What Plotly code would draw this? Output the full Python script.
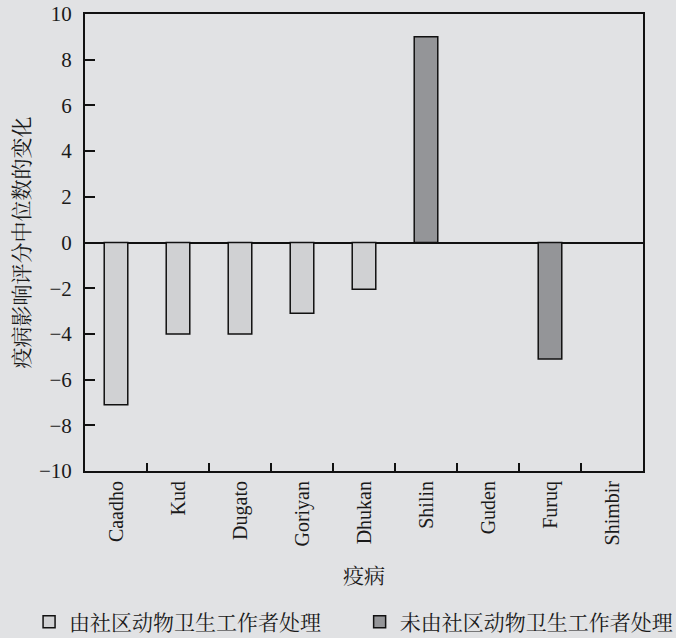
import plotly.graph_objects as go

categories = ["Caadho", "Kud", "Dugato", "Goriyan", "Dhukan", "Shilin", "Guden", "Furuq", "Shimbir"]
treated = [-7.1, -4.0, -4.0, -3.1, -2.05, None, None, None, None]
untreated = [None, None, None, None, None, 9.0, None, -5.1, None]
series_names = ["由社区动物卫生工作者处理", "未由社区动物卫生工作者处理"]
y_ticks = [-10, -8, -6, -4, -2, 0, 2, 4, 6, 8, 10]
y_tick_text = ["−10", "−8", "−6", "−4", "−2", "0", "2", "4", "6", "8", "10"]

FONT = "Liberation Serif, Noto Serif CJK SC, Noto Sans CJK SC, serif"
BG = "#e1e2e4"

fig = go.Figure()
fig.add_trace(go.Bar(x=categories, y=treated, name=series_names[0], width=0.38, legend="legend",
                     marker=dict(color="#d0d1d3", line=dict(color="#111111", width=1.5))))
fig.add_trace(go.Bar(x=categories, y=untreated, name=series_names[1], width=0.38, legend="legend2",
                     marker=dict(color="#949598", line=dict(color="#111111", width=1.5))))

legend_common = dict(orientation="h", xref="container", yref="container",
                     xanchor="left", y=0.025, yanchor="middle",
                     font=dict(size=21, family=FONT), bgcolor="rgba(0,0,0,0)",
                     itemwidth=30)

fig.update_layout(
    width=676, height=638,
    paper_bgcolor=BG, plot_bgcolor=BG,
    margin=dict(l=85, r=33, t=14, b=167, autoexpand=False),
    barmode="overlay",
    font=dict(family=FONT, size=21, color="#1a1a1a"),
    showlegend=True,
    legend=dict(x=0.043, **legend_common),
    legend2=dict(x=0.532, **legend_common),
)
fig.update_xaxes(
    type="category", categoryorder="array", categoryarray=categories,
    tickson="boundaries", ticks="inside", ticklen=8, tickwidth=1.5, tickcolor="#111111",
    tickangle=-90, tickfont=dict(size=20, family=FONT), automargin=False,
    showline=True, linecolor="#111111", linewidth=2, mirror=True,
    showgrid=False, zeroline=False,
    title=dict(text="疫病", font=dict(size=21, family=FONT), standoff=23),
)
fig.update_yaxes(
    range=[-10, 10], tickvals=y_ticks, ticktext=y_tick_text,
    ticks="inside", ticklen=10, tickwidth=1.5, tickcolor="#111111",
    tickfont=dict(size=21, family=FONT), automargin=False, ticklabelstandoff=7,
    showline=True, linecolor="#111111", linewidth=2, mirror=True,
    showgrid=False, zeroline=True, zerolinecolor="#111111", zerolinewidth=1.5,
    title=dict(text="疫病影响评分中位数的变化", font=dict(size=21, family=FONT), standoff=4),
)

fig.write_html("out.html", config={"displayModeBar": False},
               post_script="document.body.style.margin='0';document.body.style.background='" + BG + "';")
